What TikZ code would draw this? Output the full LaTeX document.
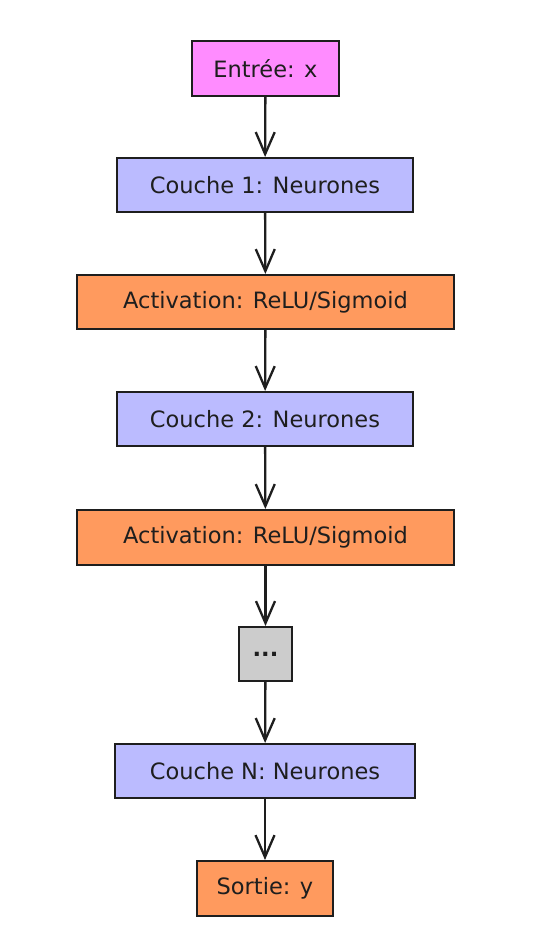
\documentclass[tikz,border=0pt]{standalone}
\usepackage{fontspec}
\setmainfont{DejaVu Sans}
\usetikzlibrary{arrows.meta}
\definecolor{inkc}{HTML}{1E1E1E}
\definecolor{pinkc}{HTML}{FF8CFF}
\definecolor{bluec}{HTML}{BBBBFF}
\definecolor{orangec}{HTML}{FF9A5E}
\definecolor{grayc}{HTML}{CCCCCC}
\tikzset{
  box/.style={draw=inkc, line width=2pt, text=inkc, font=\fontsize{22.5}{26}\selectfont, inner sep=0pt, anchor=center},
  conn/.style={draw=inkc, line width=2.3pt, -{Straight Barb[length=22pt,width=19pt,line width=2.3pt]}},
}
\begin{document}
\begin{tikzpicture}[x=1pt,y=-1pt]
\useasboundingbox[fill=white] (0,0) rectangle (537,948);
\node[box, fill=pinkc, minimum width=147pt, minimum height=55pt] (in) at (265.5,68.5) {Entrée: x};
\node[box, fill=bluec, minimum width=296pt, minimum height=54pt] (c1) at (265,185) {Couche 1: Neurones};
\node[box, fill=orangec, minimum width=377pt, minimum height=54pt] (a1) at (265.5,302) {Activation: ReLU/Sigmoid};
\node[box, fill=bluec, minimum width=296pt, minimum height=54pt] (c2) at (265,419) {Couche 2: Neurones};
\node[box, fill=orangec, minimum width=377pt, minimum height=55pt] (a2) at (265.5,537.5) {Activation: ReLU/Sigmoid};
\node[box, fill=grayc, minimum width=53pt, minimum height=54pt] (dots) at (265.5,654) {\textbf{...}};
\node[box, fill=bluec, minimum width=300pt, minimum height=54pt] (cn) at (265,771) {Couche N: Neurones};
\node[box, fill=orangec, minimum width=136pt, minimum height=55pt] (out) at (265,888.5) {Sortie: y};
\draw[conn] (in) -- (c1);
\draw[conn] (c1) -- (a1);
\draw[conn] (a1) -- (c2);
\draw[conn] (c2) -- (a2);
\draw[conn] (a2) -- (dots);
\draw[conn] (dots) -- (cn);
\draw[conn] (cn) -- (out);
\end{tikzpicture}
\end{document}
